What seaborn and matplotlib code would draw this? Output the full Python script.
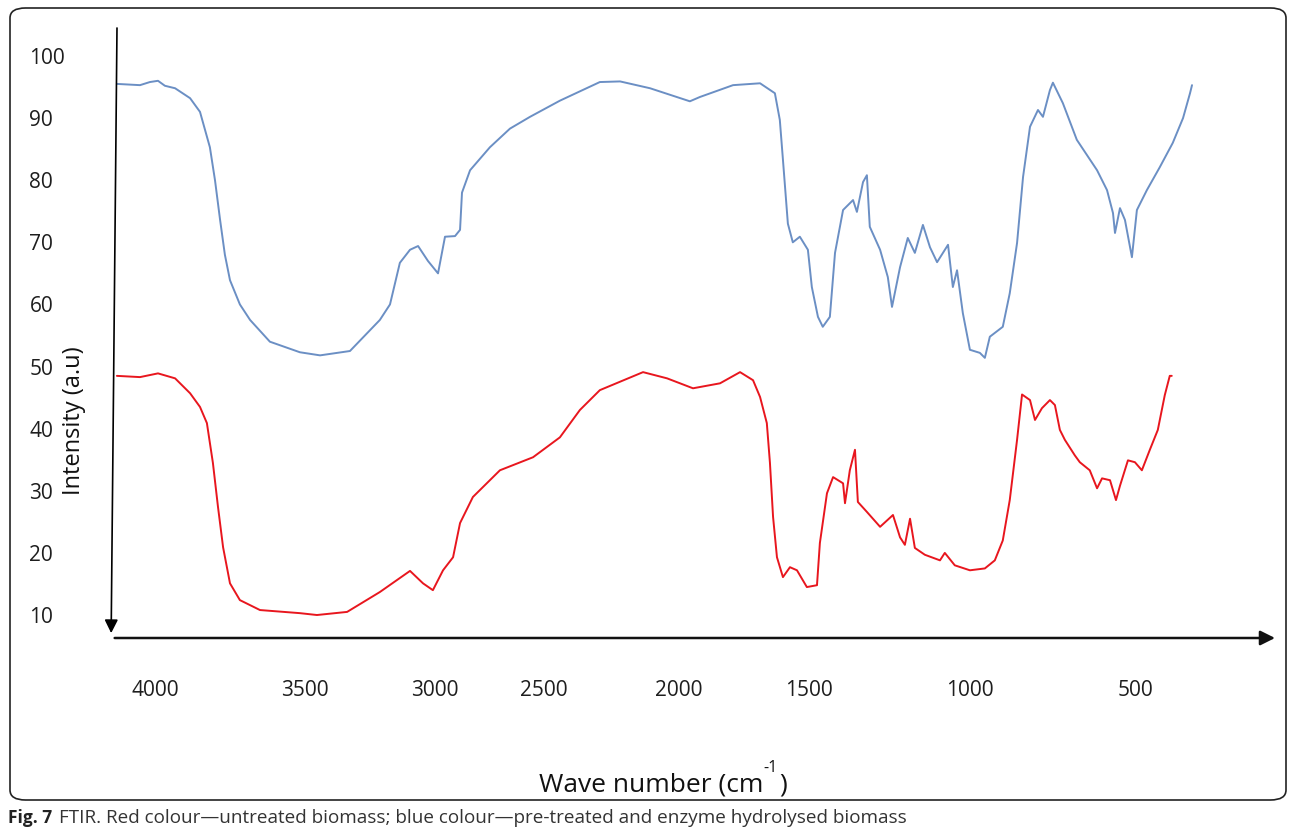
import numpy as np
import pandas as pd
import matplotlib
matplotlib.use("Agg")
import matplotlib.pyplot as plt
from matplotlib.patches import FancyBboxPatch
import seaborn as sns

# ---- FTIR spectra (wave number in cm^-1, intensity in a.u.) ----
treated_wn = [4127, 4050, 4017, 3990, 3967, 3933, 3883, 3850, 3817, 3800, 3783, 3767,
              3750, 3717, 3683, 3617, 3517, 3442, 3327, 3212, 3173, 3135, 3096, 3065,
              3027, 2986, 2954, 2908, 2885, 2876, 2839, 2748, 2656, 2564, 2441, 2293,
              2218, 2107, 1958, 1919, 1792, 1688, 1631, 1612, 1600, 1581, 1562, 1535,
              1504, 1491, 1472, 1457, 1435, 1419, 1394, 1363, 1351, 1332, 1320, 1311,
              1279, 1255, 1242, 1217, 1193, 1171, 1146, 1124, 1102, 1068, 1053, 1040,
              1022, 1000, 970, 955, 940, 901, 880, 858, 840, 819, 795, 780, 759, 750,
              720, 678, 617, 587, 569, 563, 548, 533, 512, 497, 467, 428, 389, 358,
              337, 331]
treated_int = [95.5, 95.3, 95.8, 96.0, 95.2, 94.8, 93.2, 91.0, 85.3, 80.0, 73.6, 68.0,
               63.9, 60.0, 57.5, 54.0, 52.3, 51.8, 52.5, 57.5, 60.0, 66.7, 68.8, 69.4,
               67.0, 65.0, 70.9, 71.0, 72.0, 78.0, 81.6, 85.3, 88.3, 90.2, 92.8, 95.8,
               95.9, 94.8, 92.7, 93.4, 95.3, 95.6, 94.0, 89.7, 83.3, 73.0, 70.0, 70.9,
               68.8, 62.8, 58.0, 56.4, 58.0, 68.3, 75.2, 76.8, 74.9, 79.7, 80.8, 72.5,
               68.8, 64.4, 59.6, 66.0, 70.7, 68.3, 72.8, 69.2, 66.8, 69.6, 62.8, 65.5,
               58.6, 52.7, 52.2, 51.4, 54.8, 56.4, 61.8, 69.9, 80.5, 88.6, 91.3, 90.2,
               94.5, 95.7, 92.4, 86.5, 81.6, 78.4, 74.7, 71.5, 75.5, 73.6, 67.6, 75.2,
               78.4, 82.1, 86.0, 90.0, 94.0, 95.3]

untreated_wn = [4127, 4050, 3990, 3933, 3883, 3850, 3827, 3807, 3790, 3773, 3750, 3717,
                3650, 3517, 3454, 3338, 3212, 3096, 3046, 3008, 2963, 2917, 2885, 2826,
                2702, 2550, 2441, 2367, 2293, 2133, 2044, 1946, 1842, 1765, 1715, 1688,
                1662, 1650, 1638, 1623, 1600, 1573, 1546, 1508, 1475, 1466, 1444, 1425,
                1394, 1388, 1373, 1357, 1348, 1320, 1279, 1239, 1217, 1202, 1186, 1171,
                1140, 1093, 1078, 1047, 1000, 955, 925, 901, 880, 858, 843, 819, 804,
                783, 759, 744, 729, 714, 684, 669, 639, 617, 602, 578, 560, 548, 524,
                503, 482, 458, 434, 413, 398, 392]
untreated_int = [48.5, 48.3, 48.9, 48.1, 45.7, 43.5, 40.9, 34.5, 27.4, 20.9, 15.1, 12.4,
                 10.8, 10.3, 10.0, 10.5, 13.7, 17.1, 15.1, 14.0, 17.2, 19.3, 24.8, 29.0,
                 33.3, 35.4, 38.6, 43.0, 46.2, 49.1, 48.1, 46.5, 47.3, 49.1, 47.8, 45.1,
                 40.9, 34.5, 25.8, 19.3, 16.1, 17.7, 17.2, 14.5, 14.8, 21.6, 29.6, 32.2,
                 31.2, 28.0, 33.3, 36.6, 28.2, 26.6, 24.2, 26.1, 22.5, 21.3, 25.5, 20.8,
                 19.7, 18.8, 20.0, 18.0, 17.2, 17.5, 18.8, 22.0, 28.5, 38.2, 45.5, 44.6,
                 41.4, 43.3, 44.6, 43.8, 39.8, 38.2, 35.7, 34.6, 33.3, 30.4, 32.0, 31.7,
                 28.5, 30.8, 34.9, 34.6, 33.3, 36.6, 39.8, 45.4, 48.5, 48.5]

x_ticks = [4000, 3500, 3000, 2500, 2000, 1500, 1000, 500]
y_ticks = [100, 90, 80, 70, 60, 50, 40, 30, 20, 10]

# Uneven wave-number axis: offsets of each calibration wave number along the axis
axis_wn = [-500, 0, 500, 1000, 1500, 2000, 2500, 3000, 3500, 4000, 4500, 5000]
axis_offset = [-166, 0, 166, 332, 493, 623, 758, 867, 997, 1147, 1297, 1447]

df = pd.concat([
    pd.DataFrame({"wn": treated_wn, "intensity": treated_int,
                  "sample": "pre-treated"}),
    pd.DataFrame({"wn": untreated_wn, "intensity": untreated_int,
                  "sample": "untreated"}),
])

sns.set_theme(style="white")
plt.rcParams["font.family"] = ["Open Sans", "DejaVu Sans"]

W, H = 1290, 835
fig = plt.figure(figsize=(W / 100, H / 100), dpi=100)
ax = fig.add_axes([110 / W, (H - 638) / H, (1275 - 110) / W, (638 - 28) / H])

sns.lineplot(data=df, x="wn", y="intensity", hue="sample", estimator=None,
             sort=False, palette={"pre-treated": "#6b8fc4", "untreated": "#e8161e"},
             linewidth=1.4, legend=False, ax=ax)


def fwd(v):
    return np.interp(v, axis_wn, axis_offset)


def inv(s):
    return np.interp(s, axis_offset, axis_wn)


ax.set_xscale("function", functions=(fwd, inv))
ax.set_xlim(4150, 81)
ax.set_ylim(6.3, 104.5)

ax.set_xticks(x_ticks)
ax.set_xticklabels([str(t) for t in x_ticks])
ax.set_yticks(y_ticks)
ax.set_yticklabels([str(t) for t in y_ticks])
ax.xaxis.set_minor_locator(matplotlib.ticker.NullLocator())
ax.tick_params(axis="x", length=0, pad=30, labelsize=15, labelcolor="#1e1e1e")
ax.tick_params(axis="y", length=0, pad=58, labelsize=15, labelcolor="#1e1e1e")
for lab in ax.get_yticklabels():
    lab.set_horizontalalignment("left")

ax.set_xlabel("")
ax.set_ylabel("Intensity (a.u)", fontsize=17, color="#111111")
ax.yaxis.label.set_verticalalignment("center")
ax.yaxis.set_label_coords(-0.031, 0.356)

for sp in ax.spines.values():
    sp.set_visible(False)
ax.grid(False)

# hand-drawn style axes: arrow down the left side, arrow to the right along the bottom
ax.annotate("", xy=(0.001, 0.008), xytext=(0.006, 1.0), xycoords="axes fraction",
            arrowprops=dict(arrowstyle="-|>", color="black", lw=1.2,
                            mutation_scale=20, shrinkA=0, shrinkB=0))
ax.annotate("", xy=(1.0, 0.0), xytext=(0.004, 0.0), xycoords="axes fraction",
            arrowprops=dict(arrowstyle="-|>", color="#111111", lw=1.8,
                            mutation_scale=22, shrinkA=0, shrinkB=0))

# axis title with raised exponent
fig.text(763 / W, 1 - 785 / H, "Wave number (cm", ha="right", va="center",
         fontsize=19, color="#111111")
fig.text(771 / W, 1 - 768 / H, "-1", ha="center", va="center",
         fontsize=11.5, color="#111111")
fig.text(779 / W, 1 - 785 / H, ")", ha="left", va="center",
         fontsize=19, color="#111111")

# figure caption
fig.text(8 / W, 1 - 818 / H, "Fig. 7", ha="left", va="center", fontsize=12.5,
         fontweight="bold", color="#222222")
fig.text(59 / W, 1 - 818 / H,
         "FTIR. Red colour\u2014untreated biomass; blue colour\u2014pre-treated and "
         "enzyme hydrolysed biomass",
         ha="left", va="center", fontsize=13.6, color="#333333")

# rounded frame round the figure panel
frame = FancyBboxPatch((10 / W, 1 - 800 / H), (1286 - 10) / W, (800 - 8) / H,
                       boxstyle="round,pad=0,rounding_size=0.012",
                       transform=fig.transFigure, fill=False, edgecolor="#222222",
                       lw=1.2, clip_on=False)
fig.patches.append(frame)

fig.savefig("out.png", dpi=100)
